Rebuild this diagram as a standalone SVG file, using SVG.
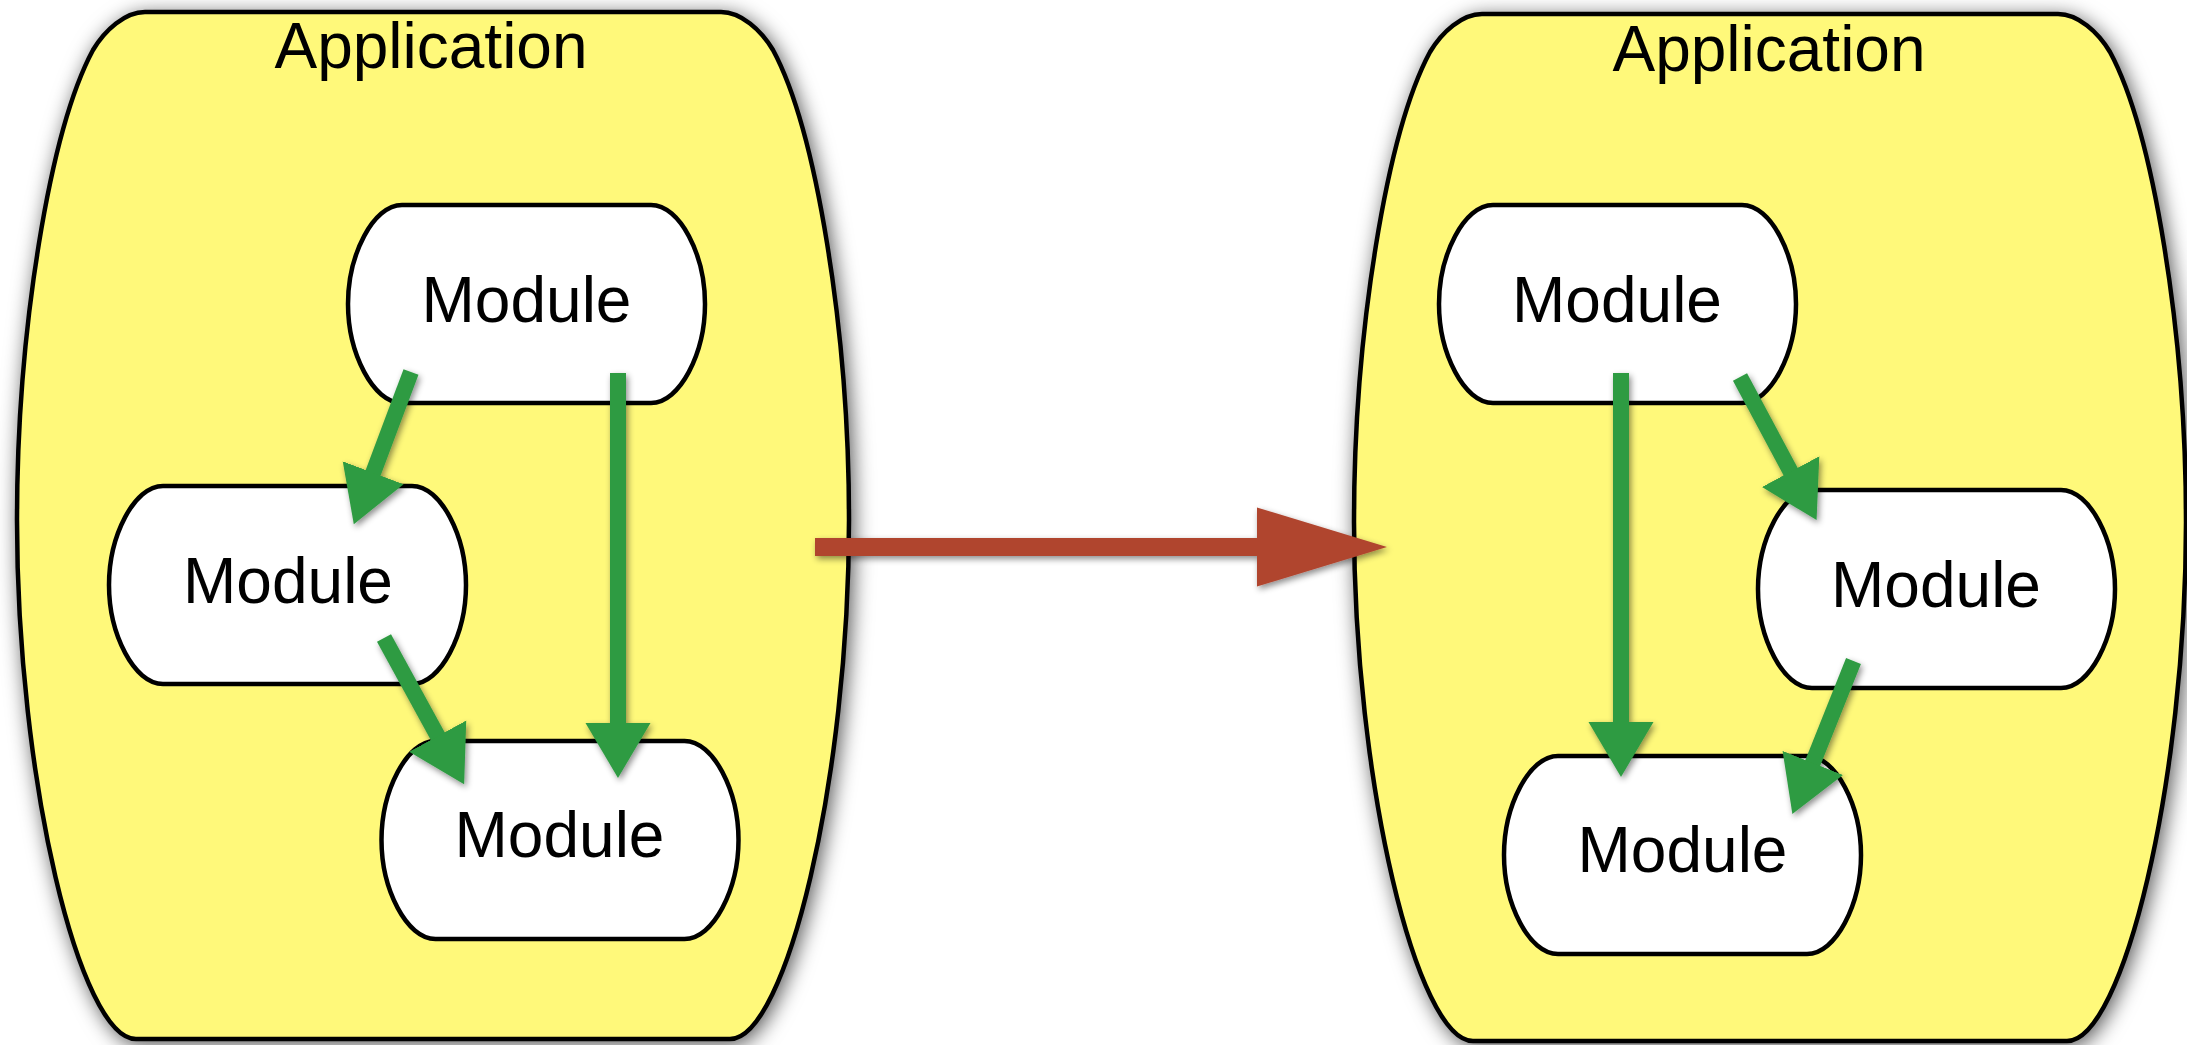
<svg xmlns="http://www.w3.org/2000/svg" xmlns:xlink="http://www.w3.org/1999/xlink" width="2187" height="1045" viewBox="0 0 2187 1045">
  <defs>
    <style>
      .app { fill: #fff97a; stroke: #000; stroke-width: 4.5; filter: url(#appShadow); }
      .module { fill: #fff; stroke: #000; stroke-width: 4.5; stroke-linejoin: round; }
      .label { font-family: "Liberation Sans", Arial, Helvetica, sans-serif; font-size: 64px; fill: #000; text-anchor: middle; }
      .dep { stroke: #2e9b42; stroke-width: 16; fill: none; marker-end: url(#greenHead); }
      .move { stroke: #b0452f; stroke-width: 18; fill: none; marker-end: url(#redHead); }
    </style>
    <filter id="appShadow" x="-10%" y="-10%" width="120%" height="120%">
      <feDropShadow dx="3" dy="4" stdDeviation="10" flood-color="#000" flood-opacity="0.65"/>
    </filter>
    <filter id="arrowShadow" x="-20%" y="-20%" width="140%" height="140%">
      <feDropShadow dx="2" dy="3" stdDeviation="3" flood-color="#000" flood-opacity="0.45"/>
    </filter>
    <marker id="greenHead" markerUnits="userSpaceOnUse" viewBox="0 0 56 66" markerWidth="56" markerHeight="66" refX="1" refY="33" orient="auto">
      <path d="M0 0.5 L55 33 L0 65.5 Z" fill="#2e9b42"/>
    </marker>
    <marker id="redHead" markerUnits="userSpaceOnUse" viewBox="0 0 131 80" markerWidth="131" markerHeight="80" refX="1" refY="40" orient="auto">
      <path d="M0 0.5 L130 40 L0 79.5 Z" fill="#b0452f"/>
    </marker>
    <!-- barrel-shaped application outline, 866 wide -->
    <path id="appShape" d="M145 12 H721 C741 12 761 30 773 50 C816 130 849 330 849 520 C849 780 786 1039 730 1039 H136 C80 1039 17 780 17 520 C17 330 50 130 93 50 C105 30 125 12 145 12 Z"/>
    <!-- module outline, centred on the origin -->
    <path id="moduleShape" d="M-124.5 -99 H124.5 C153.5 -99 178.5 -49 178.5 0 C178.5 49 153.5 99 124.5 99 H-124.5 C-153.5 99 -178.5 49 -178.5 0 C-178.5 -49 -153.5 -99 -124.5 -99 Z"/>
  </defs>

  <rect width="2187" height="1045" fill="#fff"/>

  <!-- before -->
  <g id="app-left">
    <use xlink:href="#appShape" class="app"/>
    <text class="label" x="431" y="68">Application</text>
  </g>
  <!-- after -->
  <g id="app-right">
    <use xlink:href="#appShape" class="app" transform="translate(1337,2)"/>
    <text class="label" x="1769" y="71">Application</text>
  </g>

  <g id="module-left-top">
    <use xlink:href="#moduleShape" class="module" x="526.5" y="304"/>
    <text class="label" x="526.5" y="322">Module</text>
  </g>
  <g id="module-left-mid">
    <use xlink:href="#moduleShape" class="module" x="287.5" y="585"/>
    <text class="label" x="288" y="603">Module</text>
  </g>
  <g id="module-left-bottom">
    <use xlink:href="#moduleShape" class="module" x="560" y="840"/>
    <text class="label" x="559.5" y="857">Module</text>
  </g>

  <g id="module-right-top">
    <use xlink:href="#moduleShape" class="module" x="1617.5" y="304"/>
    <text class="label" x="1617" y="322">Module</text>
  </g>
  <g id="module-right-mid">
    <use xlink:href="#moduleShape" class="module" x="1936.5" y="589"/>
    <text class="label" x="1936" y="607">Module</text>
  </g>
  <g id="module-right-bottom">
    <use xlink:href="#moduleShape" class="module" x="1682.5" y="855"/>
    <text class="label" x="1682.5" y="872">Module</text>
  </g>

  <g id="connectors" filter="url(#arrowShadow)">
    <line class="dep" x1="411" y1="372" x2="372.8" y2="473.7"/>
    <line class="dep" x1="618" y1="373" x2="618" y2="724"/>
    <line class="dep" x1="384" y1="638" x2="438.2" y2="737"/>
    <line class="dep" x1="1621" y1="373" x2="1621" y2="723"/>
    <line class="dep" x1="1740" y1="377" x2="1791.1" y2="472.5"/>
    <line class="dep" x1="1853.5" y1="661" x2="1812.4" y2="763.9"/>
    <line class="move" x1="815" y1="547" x2="1258" y2="547"/>
  </g>
</svg>
